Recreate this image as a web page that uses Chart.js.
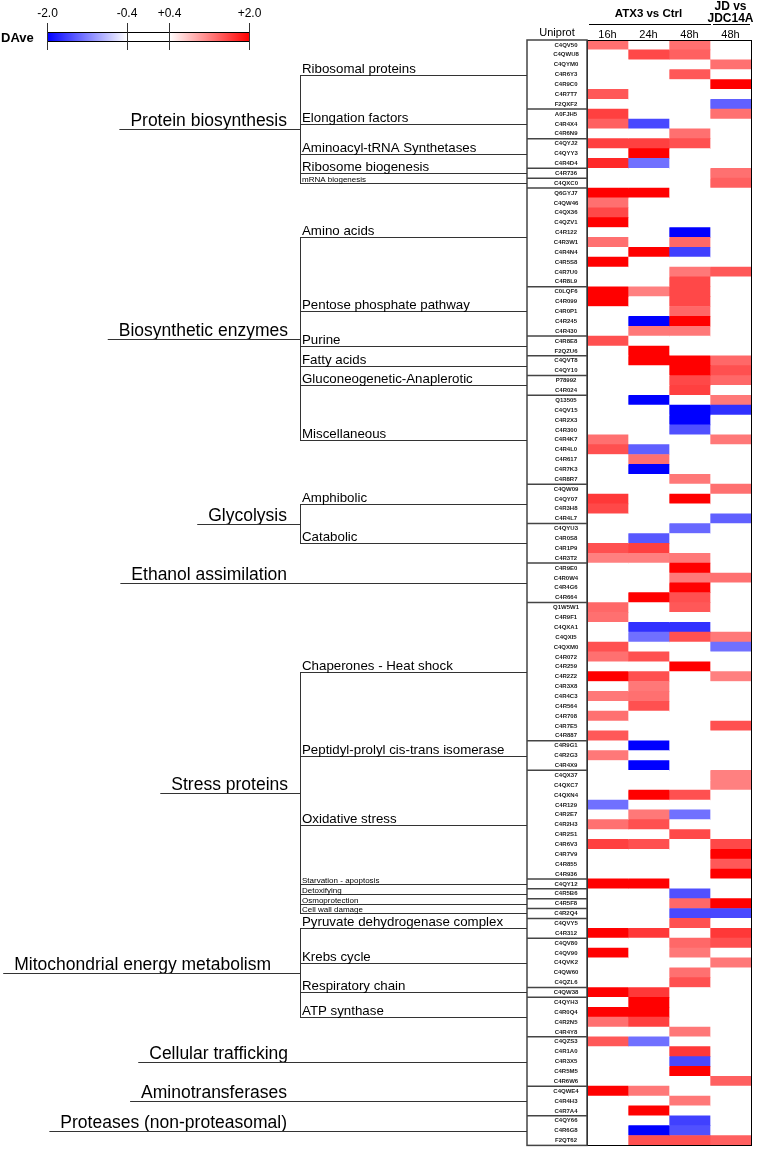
<!DOCTYPE html>
<html>
<head>
<meta charset="utf-8">
<script src="https://cdn.jsdelivr.net/npm/chart.js@4.4.0/dist/chart.umd.min.js"></script>
<style>
body { margin: 0; background: #fff; }
canvas { display: block; }
</style>
</head>
<body>
<canvas id="heat" width="761" height="1149"></canvas>
<script>
const uniprot = [
  'C4QV50','C4QWU8','C4QYM0','C4R6Y3','C4R9C0','C4R7T7','F2QXF2','A0FJH5','C4R4X4','C4R6N9',
  'C4QYJ2','C4QYY3','C4R4D4','C4R736','C4QXC0','Q6GYJ7','C4QW46','C4QX36','C4QZV1','C4R122',
  'C4R3W1','C4R4N4','C4R5S8','C4R7U0','C4R8L9','C0LQF6','C4R099','C4R0P1','C4R245','C4R430',
  'C4R8E8','F2QZU6','C4QVT8','C4QY10','P78992','C4R024','Q13505','C4QV15','C4R2X3','C4R300',
  'C4R4K7','C4R4L0','C4R617','C4R7K3','C4R8R7','C4QW09','C4QY07','C4R3H8','C4R4L7','C4QYU3',
  'C4R0S8','C4R1P9','C4R3T2','C4R9E0','C4R0W4','C4R4G6','C4R664','Q1W5W1','C4R9F1','C4QXA1',
  'C4QXI5','C4QXM0','C4R072','C4R259','C4R2Z2','C4R3X8','C4R4C3','C4R564','C4R708','C4R7E5',
  'C4R887','C4R9G1','C4R2G3','C4R4X9','C4QX37','C4QXC7','C4QXN4','C4R129','C4R2E7','C4R2H3',
  'C4R2S1','C4R6V3','C4R7V9','C4R855','C4R936','C4QY12','C4R5B6','C4R5F8','C4R2Q4','C4QVY5',
  'C4R312','C4QV80','C4QV90','C4QVK2','C4QW60','C4QZL6','C4QW38','C4QYH3','C4R0Q4','C4R2N5',
  'C4R4Y8','C4QZS3','C4R1A0','C4R3X5','C4R5M5','C4R6W6','C4QWE4','C4R4H3','C4R7A4','C4QY66',
  'C4R6G8','F2QT62'
];

// DAve values, ATX3 vs Ctrl
const dave16h = [
  1.3, 0, 0, 0, 0, 1.45, 0, 1.6, 1.4, 0,
  1.6, 0, 1.75, 0, 0, 2.0, 1.3, 1.55, 2.0, 0,
  1.3, 0, 2.0, 0, 0, 2.0, 2.0, 0, 0, 0,
  1.5, 0, 0, 0, 0, 0, 0, 0, 0, 0,
  1.3, 1.5, 0, 0, 0, 0, 1.65, 1.55, 0, 0,
  0, 1.5, 1.2, 0, 0, 0, 0, 1.35, 1.3, 0,
  0, 1.5, 1.3, 0, 2.0, 0, 1.25, 0, 1.3, 0,
  1.45, 0, 1.25, 0, 0, 0, 0, -1.3, 0, 1.3,
  0, 1.6, 0, 0, 0, 2.0, 0, 0, 0, 0,
  2.0, 0, 2.0, 0, 0, 0, 2.0, 0, 2.0, 1.3,
  0, 1.45, 0, 0, 0, 0, 2.0, 0, 0, 0,
  0, 0
];
const dave24h = [
  0, 1.55, 0, 0, 0, 0, 0, 0, -1.55, 0,
  1.6, 2.0, -1.3, 0, 0, 2.0, 0, 0, 0, 0,
  0, 2.0, 0, 0, 0, 1.2, 0, 0, -2.0, 1.25,
  0, 2.0, 2.0, 0, 0, 0, -2.0, 0, 0, 0,
  0, -1.4, 1.3, -2.0, 0, 0, 0, 0, 0, 0,
  -1.45, 1.6, 1.2, 0, 0, 0, 2.0, 0, 0, -1.7,
  -1.3, 0, 1.5, 0, 1.5, 1.25, 1.3, 1.5, 0, 0,
  0, -2.0, 0, -2.0, 0, 0, 2.0, 0, 1.25, 1.5,
  0, 1.5, 0, 0, 0, 2.0, 0, 0, 0, 0,
  1.65, 0, 0, 0, 0, 0, 1.65, 2.0, 2.0, 1.6,
  0, -1.3, 0, 0, 0, 0, 1.25, 0, 2.0, 0,
  -2.0, 1.5
];
const dave48h = [
  1.3, 1.4, 0, 1.45, 0, 0, 0, 0, 0, 1.3,
  1.5, 0, 0, 0, 0, 0, 0, 0, 0, -2.0,
  1.35, -1.6, 0, 1.25, 1.55, 1.55, 1.55, 1.35, 2.0, 1.25,
  0, 0, 2.0, 2.0, 1.55, 1.6, 0, -2.0, -2.0, -1.5,
  0, 0, 0, 0, 1.25, 0, 2.0, 0, 0, -1.35,
  0, 0, 1.25, 2.0, 1.25, 2.0, 1.5, 1.45, 0, -1.7,
  1.5, 0, 0, 2.0, 0, 0, 0, 0, 0, 0,
  0, 0, 0, 0, 0, 0, 1.5, 0, -1.3, 0,
  1.55, 0, 0, 0, 0, 0, -1.5, 1.35, -1.55, 1.5,
  0, 1.35, 1.25, 0, 1.3, 1.5, 0, 0, 0, 0,
  1.25, 0, 1.65, -1.55, 2.0, 0, 0, 1.25, 0, -1.6,
  -1.5, 1.5
];
// JD vs JDC14A, 48h
const daveJD = [
  0, 0, 1.3, 0, 2.0, 0, -1.4, 1.3, 0, 0,
  0, 0, 0, 1.3, 1.4, 0, 0, 0, 0, 0,
  0, 0, 0, 1.45, 0, 0, 0, 0, 0, 0,
  0, 0, 1.35, 1.5, 1.35, 0, 1.25, -1.7, 0, 0,
  1.25, 0, 0, 0, 0, 1.3, 0, 0, -1.4, 0,
  0, 0, 0, 0, 1.3, 0, 0, 0, 0, 0,
  1.25, -1.3, 0, 0, 1.2, 0, 0, 0, 0, 1.5,
  0, 0, 0, 0, 1.2, 1.2, 0, 0, 0, 0,
  0, 1.55, 2.0, 1.45, 2.0, 0, 0, 2.0, -1.55, 0,
  1.65, 1.5, 0, 1.25, 0, 0, 0, 0, 0, 0,
  0, 0, 0, 0, 0, 1.4, 0, 0, 0, 0,
  0, 1.4
];

const columns = ['16h', '24h', '48h', '48h'];
const scaleTicks = [-2.0, -0.4, 0.4, 2.0];
const scaleLabels = ['-2.0', '-0.4', '+0.4', '+2.0'];

const topGroups = ['Protein biosynthesis', 'Biosynthetic enzymes', 'Glycolysis', 'Ethanol assimilation',
  'Stress proteins', 'Mitochondrial energy metabolism', 'Cellular trafficking', 'Aminotransferases',
  'Proteases (non-proteasomal)'];
const topTextRight = [287, 288, 287, 287, 288, 271, 288, 287, 287];

// [top group, label, first row, last row, small font]
const subGroups = [
  [0, 'Ribosomal proteins', 0, 6],
  [0, 'Elongation factors', 7, 9],
  [0, 'Aminoacyl-tRNA Synthetases', 10, 12],
  [0, 'Ribosome biogenesis', 13, 13],
  [0, 'mRNA biogenesis', 14, 14, true],
  [1, 'Amino acids', 15, 24],
  [1, 'Pentose phosphate pathway', 25, 29],
  [1, 'Purine', 30, 31],
  [1, 'Fatty acids', 32, 33],
  [1, 'Gluconeogenetic-Anaplerotic', 34, 35],
  [1, 'Miscellaneous', 36, 44],
  [2, 'Amphibolic', 45, 48],
  [2, 'Catabolic', 49, 52],
  [3, '', 53, 56],
  [4, 'Chaperones - Heat shock', 57, 70],
  [4, 'Peptidyl-prolyl cis-trans isomerase', 71, 73],
  [4, 'Oxidative stress', 74, 84],
  [4, 'Starvation - apoptosis', 85, 85, true],
  [4, 'Detoxifying', 86, 86, true],
  [4, 'Osmoprotection', 87, 87, true],
  [4, 'Cell wall damage', 88, 88, true],
  [5, 'Pyruvate dehydrogenase complex', 89, 90],
  [5, 'Krebs cycle', 91, 95],
  [5, 'Respiratory chain', 96, 96],
  [5, 'ATP synthase', 97, 100],
  [6, '', 101, 105],
  [7, '', 106, 108],
  [8, '', 109, 111]
];

const FONT = '"Liberation Sans", Arial, sans-serif';

function daveColor(v) {
  if (v >= 0.4) {
    let g = Math.round(255 * (1 - Math.min(1, (v - 0.4) / 1.6)));
    return `rgb(255,${g},${g})`;
  }
  if (v <= -0.4) {
    let g = Math.round(255 * (1 - Math.min(1, (-v - 0.4) / 1.6)));
    return `rgb(${g},${g},255)`;
  }
  return '#ffffff';
}

const datasets = [dave16h, dave24h, dave48h, daveJD].map((vals, c) => ({
  label: columns[c],
  data: uniprot.map(() => [c, c + 1]),
  backgroundColor: vals.map(daveColor),
  borderWidth: 0,
  barPercentage: 1,
  categoryPercentage: 1,
  grouped: false
}));

function hline(ctx, x1, x2, y) {
  ctx.beginPath();
  ctx.moveTo(x1, Math.round(y) + 0.5);
  ctx.lineTo(x2, Math.round(y) + 0.5);
  ctx.stroke();
}
function vline(ctx, x, y1, y2) {
  ctx.beginPath();
  ctx.moveTo(Math.round(x) + 0.5, y1);
  ctx.lineTo(Math.round(x) + 0.5, y2);
  ctx.stroke();
}

const treePlugin = {
  id: 'tree',
  afterDraw(chart) {
    const ctx = chart.ctx;
    const ys = chart.scales.y;
    const xs = chart.scales.x;
    const area = chart.chartArea;
    const rowH = ys.getPixelForValue(1) - ys.getPixelForValue(0);
    const boxL = area.left - 60;
    ctx.save();

    // heatmap frame
    ctx.strokeStyle = '#000';
    ctx.lineWidth = 1;
    ctx.strokeRect(Math.round(area.left) + 0.5, Math.round(area.top) + 0.5,
      Math.round(area.right - area.left), Math.round(area.bottom - area.top));

    // uniprot box and separators
    ctx.strokeStyle = '#444';
    ctx.lineWidth = 1.5;
    ctx.strokeRect(boxL, area.top, 60, area.bottom - area.top);
    subGroups.forEach(s => {
      let yb = ys.getPixelForValue(s[3]) + rowH / 2;
      if (s[3] < uniprot.length - 1) {
        ctx.beginPath();
        ctx.moveTo(boxL, yb);
        ctx.lineTo(area.left, yb);
        ctx.stroke();
      }
    });

    // category tree
    ctx.strokeStyle = '#333';
    ctx.lineWidth = 1;
    ctx.fillStyle = '#000';
    ctx.textBaseline = 'alphabetic';
    const branchX = 300;
    topGroups.forEach((name, gi) => {
      const leaves = subGroups.filter(s => s[0] === gi);
      const mids = leaves.map(s => (ys.getPixelForValue(s[2]) + ys.getPixelForValue(s[3])) / 2);
      let lineY, lineEnd;
      if (leaves.length === 1 && !leaves[0][1]) {
        lineY = mids[0];
        lineEnd = boxL;
      } else {
        leaves.forEach((s, i) => {
          hline(ctx, branchX, boxL, mids[i]);
          ctx.textAlign = 'left';
          ctx.font = s[4] ? `8px ${FONT}` : `13.3px ${FONT}`;
          ctx.fillText(s[1], branchX + 2, Math.round(mids[i]) - (s[4] ? 1 : 2));
        });
        vline(ctx, branchX, Math.round(mids[0]) + 0.5, Math.round(mids[mids.length - 1]) + 0.5);
        lineY = (mids[0] + mids[mids.length - 1]) / 2;
        lineEnd = branchX;
      }
      ctx.font = `17.5px ${FONT}`;
      ctx.textAlign = 'right';
      const w = ctx.measureText(name).width;
      ctx.fillText(name, topTextRight[gi], Math.round(lineY) - 3);
      hline(ctx, topTextRight[gi] - w - 11, lineEnd, lineY);
    });

    // column headers
    ctx.fillStyle = '#000';
    ctx.textAlign = 'center';
    ctx.textBaseline = 'middle';
    ctx.font = `11px ${FONT}`;
    columns.forEach((c, i) => ctx.fillText(c, xs.getPixelForValue(i + 0.5), 35));
    ctx.fillText('Uniprot', boxL + 30, 33);
    ctx.font = `bold 11.5px ${FONT}`;
    ctx.fillText('ATX3 vs Ctrl', (xs.getPixelForValue(0) + xs.getPixelForValue(3)) / 2, 14);
    ctx.font = `bold 12px ${FONT}`;
    ctx.fillText('JD vs', xs.getPixelForValue(3.5), 7);
    ctx.fillText('JDC14A', xs.getPixelForValue(3.5), 19);
    ctx.strokeStyle = '#000';
    hline(ctx, xs.getPixelForValue(0) + 2, xs.getPixelForValue(3) + 1, 24);
    hline(ctx, xs.getPixelForValue(3) + 3, xs.getPixelForValue(4) - 1, 24);

    // colour scale
    const tickX = [47.5, 127, 169.5, 249.5];
    const barTop = 32, barH = 9;
    let gb = ctx.createLinearGradient(tickX[0], 0, tickX[1], 0);
    gb.addColorStop(0, daveColor(scaleTicks[0]));
    gb.addColorStop(1, '#ffffff');
    ctx.fillStyle = gb;
    ctx.fillRect(tickX[0], barTop, tickX[1] - tickX[0], barH);
    let gr = ctx.createLinearGradient(tickX[2], 0, tickX[3], 0);
    gr.addColorStop(0, '#ffffff');
    gr.addColorStop(1, daveColor(scaleTicks[3]));
    ctx.fillStyle = gr;
    ctx.fillRect(tickX[2], barTop, tickX[3] - tickX[2], barH);
    ctx.strokeStyle = '#000';
    ctx.lineWidth = 1;
    ctx.strokeRect(tickX[0], barTop + 0.5, tickX[3] - tickX[0], barH);
    ctx.strokeStyle = '#333';
    tickX.forEach(x => vline(ctx, x - 0.5, 23, 50));
    ctx.fillStyle = '#000';
    ctx.font = `12px ${FONT}`;
    scaleLabels.forEach((t, i) => ctx.fillText(t, tickX[i], 14));
    ctx.font = `bold 13px ${FONT}`;
    ctx.textAlign = 'left';
    ctx.fillText('DAve', 1, 38);
    ctx.restore();
  }
};

new Chart(document.getElementById('heat').getContext('2d'), {
  type: 'bar',
  data: { labels: uniprot, datasets: datasets },
  options: {
    indexAxis: 'y',
    responsive: false,
    animation: false,
    layout: { padding: { left: 527, right: 10, top: 40, bottom: 3 } },
    scales: {
      x: { type: 'linear', min: 0, max: 4, display: false },
      y: {
        type: 'category',
        grid: { display: false },
        border: { display: false },
        afterFit: (scale) => { scale.width = 60; },
        ticks: {
          autoSkip: false,
          crossAlign: 'center',
          padding: 0,
          color: '#222',
          font: { size: 6, weight: 'bold', family: FONT }
        }
      }
    },
    plugins: {
      legend: { display: false },
      tooltip: { enabled: false }
    }
  },
  plugins: [treePlugin]
});
</script>
</body>
</html>
